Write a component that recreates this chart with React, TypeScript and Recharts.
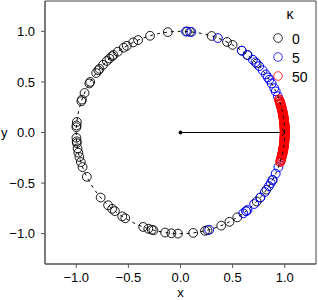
import React from 'react';
import {
  ScatterChart, Scatter, XAxis, YAxis, ReferenceLine, ReferenceDot, ReferenceArea,
} from 'recharts';

// angles (degrees)
const kappa0Angles = [
  43, 50, 54, 60, 63.5, 72.6, 84.8, 86.4, 97, 107, 114, 117, 121, 123, 127, 130, 131, 133, 135,
  138, 141, 142, 144, 150, 151, 157, 161, 162, 174, 176, 177, 183, 185, 186, 189, 191.5, 194, 197,
  200, 206, 220, 226, 229, 231, 236, 238, 249, 252, 254, 255, 261.5, 265, 268.6, 277, 283.6, 285,
  293, 298, 303, 309, 317, 320, 325.6, 332,
];
const kappa5Angles = [
  87, 84, 69, 54, 50, 46, 44, 41, 38, 35, 33, 31.5, 29, 26, 24, 21, 18, 12, 5, -3, -10,
  -14, -16, -20, -24, -28, -30, -32, -36, -40, -45, -50, -51, -53, -74,
];
const kappa50Angles = [
  19, 18, 17, 16.5, 16, 15, 14.5, 14, 13, 12.5, 12, 11, 10.5, 10, 9.5, 9, 8.5, 8, 7.5, 7, 6.5, 6,
  5.5, 5, 4.5, 4, 3.5, 3, 2.5, 2, 1.5, 1, 0.5, 0, -0.5, -1, -1.5, -2, -2.5, -3, -3.5, -4, -4.5,
  -5, -5.5, -6, -6.5, -7, -7.5, -8, -8.5, -9, -9.5, -10, -10.5, -11, -12, -12.5, -13, -14, -15,
  -16, -17,
];
const axisTicks = [-1, -0.5, 0, 0.5, 1];
const legendLabels = ['0', '5', '50'];
const colors = ['#000000', '#0000ff', '#ff0000'];

const toPts = (angles: number[]) =>
  angles.map((a) => ({ x: Math.cos((a * Math.PI) / 180), y: Math.sin((a * Math.PI) / 180) }));

// reference unit circle (geometric guide)
const circleAngles: number[] = [];
for (let a = 0; a <= 360; a += 3) circleAngles.push(a);
const circlePts = toPts(circleAngles);

const ring = (color: string, w: number) => (props: any) => (
  <circle cx={props.cx} cy={props.cy} r={4.4} fill="none" stroke={color} strokeWidth={w} />
);

const font = 'Liberation Sans, Arial, Helvetica, sans-serif';

export default function App() {
  return (
    <div style={{ position: 'absolute', left: 0, top: 0, width: 318, height: 300, fontFamily: font, color: '#000' }}>
      <ScatterChart width={318} height={300} margin={{ top: 1, right: 2, bottom: 0, left: 0 }}>
        <XAxis
          type="number" dataKey="x" domain={[-1.3, 1.3]} ticks={axisTicks}
          tickFormatter={(v: number) => v.toFixed(1).replace('-', '\u2212')}
          tickSize={4} tickMargin={5} height={36} stroke="#555"
          tick={{ fill: '#000', fontSize: 13, fontFamily: font }}
          allowDataOverflow
          label={{ value: 'x', position: 'insideBottom', offset: 3, fill: '#000', fontSize: 13, fontFamily: font }}
        />
        <YAxis
          type="number" dataKey="y" domain={[-1.3, 1.3]} ticks={axisTicks}
          tickFormatter={(v: number) => v.toFixed(1).replace('-', '\u2212')}
          tickSize={4} tickMargin={6} width={45} stroke="#555"
          tick={{ fill: '#000', fontSize: 13, fontFamily: font }}
          allowDataOverflow
          label={{ value: 'y', position: 'insideLeft', offset: 1, angle: 0, fill: '#000', fontSize: 13, fontFamily: font }}
        />
        <ReferenceArea x1={-1.3} x2={1.3} y1={-1.3} y2={1.3} fill="none" stroke="#444" strokeWidth={1} />
        <Scatter data={toPts(kappa0Angles)} shape={ring(colors[0], 0.9)} isAnimationActive={false} />
        <Scatter data={toPts(kappa5Angles)} shape={ring(colors[1], 1)} isAnimationActive={false} />
        <Scatter data={toPts(kappa50Angles)} shape={ring(colors[2], 1.2)} isAnimationActive={false} />
        <Scatter
          data={circlePts}
          line={{ stroke: '#000', strokeWidth: 1, strokeDasharray: '3 4' }}
          shape={() => <g />}
          isAnimationActive={false}
        />
        <ReferenceLine segment={[{ x: 0, y: 0 }, { x: 1, y: 0 }]} stroke="#000" strokeWidth={1} />
        <ReferenceDot x={0} y={0} r={1.5} fill="#000" stroke="#000" />
        <ReferenceDot
          x={1} y={0}
          shape={(p: any) => (
            <path d={`M${p.cx - 2.5},${p.cy - 3.5} L${p.cx},${p.cy} L${p.cx - 2.5},${p.cy + 3.5}`} stroke="#000" strokeWidth={1} fill="none" />
          )}
        />
      </ScatterChart>
      <svg width={52} height={90} style={{ position: 'absolute', left: 265, top: 0, fontFamily: font }}>
        <text x={25} y={18.5} fontSize={14} textAnchor="middle" fill="#000" style={{ fill: '#000' }}>κ</text>
        {legendLabels.map((l, i) => (
          <g key={l}>
            <circle cx={13} cy={38 + i * 19} r={4.3} fill="none" stroke={colors[i]} strokeWidth={0.8} />
            <text x={27} y={43.5 + i * 19} fontSize={14} fill="#000">{l}</text>
          </g>
        ))}
      </svg>
    </div>
  );
}
